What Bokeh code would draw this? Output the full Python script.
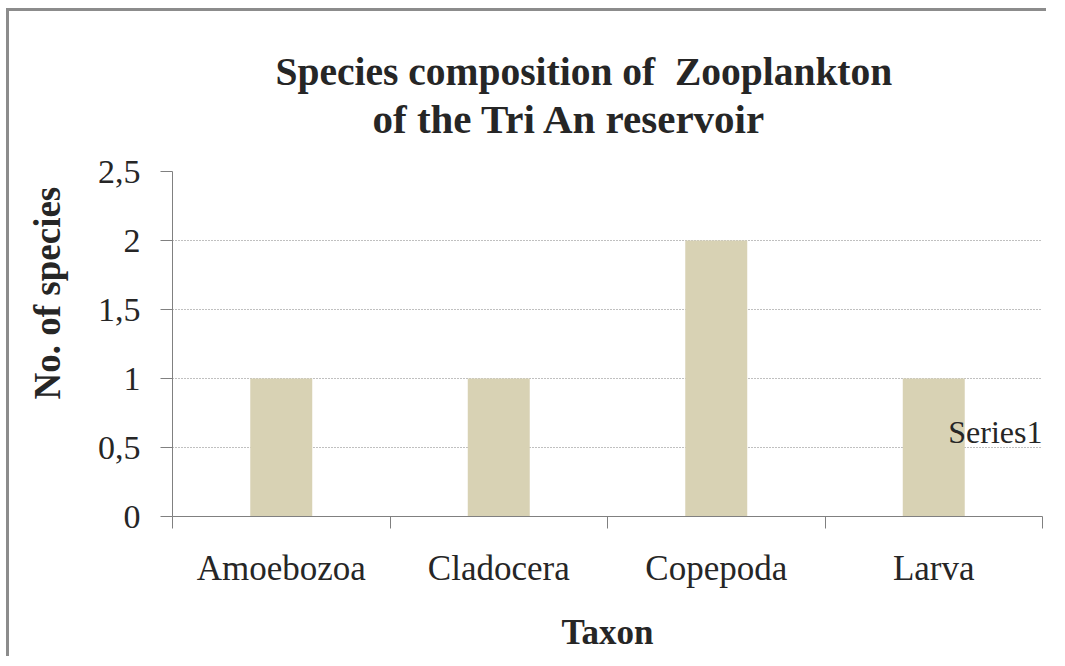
from bokeh.plotting import figure
from bokeh.models import Title, Label, FixedTicker, Range1d, ColumnDataSource
from bokeh.embed import file_html
from bokeh.resources import INLINE

categories = ["Amoebozoa", "Cladocera", "Copepoda", "Larva"]
counts = [1, 1, 2, 1]
y_tick_values = [0, 0.5, 1, 1.5, 2, 2.5]
y_tick_labels = ["0", "0,5", "1", "1,5", "2", "2,5"]
series_name = "Series1"
title_lines = ["Species composition of \u00a0Zooplankton", "of the Tri An reservoir"]
x_title = "Taxon"
y_title = "No. of species"

FONT = "Liberation Serif"
BAR = "#d8d2b4"
TXT = "#262626"

xs = [i + 0.5 for i in range(len(categories))]
src = ColumnDataSource(dict(x=xs, top=counts))

p = figure(width=1040, height=648, output_backend="svg", toolbar_location=None,
           x_range=Range1d(0, len(categories)), y_range=Range1d(0, 2.5),
           min_border_left=163, min_border_right=7, min_border_top=160,
           min_border_bottom=143, title=None,
           styles={"margin-left": "9px", "margin-top": "11px", "overflow": "hidden",
                   "box-shadow": "-3px -3px 0px 0px #8c8c8c"})
p.outline_line_color = None
p.background_fill_color = "white"
p.border_fill_color = "white"

p.vbar(x="x", top="top", width=0.285, source=src, fill_color=BAR, line_color=None)

# titles (first added is nearest the plot)
t2 = Title(text=title_lines[1], align="left", text_font=FONT, text_font_size="41px",
           text_font_style="bold", text_color=TXT, standoff=59, offset=200)
t1 = Title(text=title_lines[0], align="left", text_font=FONT, text_font_size="39.5px",
           text_font_style="bold", text_color=TXT, standoff=-59, offset=103)
p.add_layout(t2, "above")
p.add_layout(t1, "above")

# x axis
xa = p.xaxis[0]
xa.ticker = FixedTicker(ticks=xs, minor_ticks=list(range(len(categories) + 1)))
xa.major_label_overrides = {x: c for x, c in zip(xs, categories)}
xa.major_tick_out = 0
xa.major_tick_in = 0
xa.minor_tick_out = 12
xa.minor_tick_in = 0
xa.minor_tick_line_color = "#808080"
xa.axis_line_color = "#808080"
xa.major_label_text_font = FONT
xa.major_label_text_font_size = "35px"
xa.major_label_text_color = TXT
xa.major_label_standoff = 20
xa.axis_label = x_title
xa.axis_label_text_font = FONT
xa.axis_label_text_font_size = "35px"
xa.axis_label_text_font_style = "bold"
xa.axis_label_text_color = TXT
xa.axis_label_standoff = 22

# y axis (label sits above the frame centre, as in the original)
ya = p.yaxis[0]
ya.ticker = FixedTicker(ticks=y_tick_values, minor_ticks=[])
ya.major_label_overrides = {v: s for v, s in zip(y_tick_values, y_tick_labels)}
ya.major_tick_out = 12
ya.major_tick_in = 0
ya.major_tick_line_color = "#808080"
ya.axis_line_color = "#808080"
ya.major_label_text_font = FONT
ya.major_label_text_font_size = "34px"
ya.major_label_text_color = TXT
ya.major_label_standoff = 20
ya.axis_label = "\u00a0" * 11 + y_title
ya.axis_label_text_font = FONT
ya.axis_label_text_font_size = "37px"
ya.axis_label_text_font_style = "bold"
ya.axis_label_text_color = TXT
ya.axis_label_standoff = 27

p.xgrid.grid_line_color = None
p.ygrid.grid_line_color = "#808080"
p.ygrid.grid_line_dash = "1 2"
p.ygrid.grid_line_width = 1

p.add_layout(Label(x=len(categories), y=0.61, text=series_name, text_align="right",
                   text_baseline="middle", text_font=FONT, text_font_size="32px",
                   text_color=TXT))

open("out.html", "w").write(file_html(p, INLINE))
